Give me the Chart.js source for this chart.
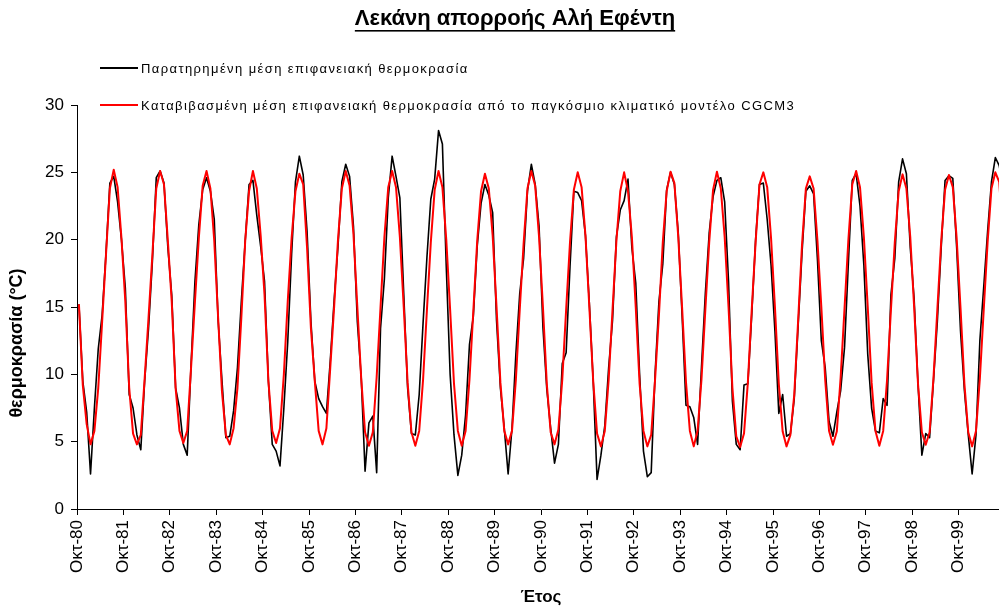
<!DOCTYPE html>
<html lang="el">
<head>
<meta charset="utf-8">
<title>Λεκάνη απορροής Αλή Εφέντη</title>
<script src="https://cdn.jsdelivr.net/npm/chart.js@4.4.1/dist/chart.umd.min.js"></script>
<style>
    html, body { margin: 0; padding: 0; background: #ffffff; overflow: hidden; }
    #wrap { width: 1010px; height: 609px; }
</style>
</head>
<body>
<div id="wrap"><canvas id="temp-chart" width="1010" height="609"></canvas></div>
<script>
// hydrological years (October to September), 1980-81 ... 1999-00
const startYears = [1980, 1981, 1982, 1983, 1984, 1985, 1986, 1987, 1988, 1989,
                    1990, 1991, 1992, 1993, 1994, 1995, 1996, 1997, 1998, 1999];
const monthNames = ['Οκτ', 'Νοε', 'Δεκ', 'Ιαν', 'Φεβ', 'Μαρ', 'Απρ', 'Μαϊ', 'Ιουν', 'Ιουλ', 'Αυγ', 'Σεπ'];

// observed monthly mean surface temperature (°C), one row per hydrological year
const observed = [
    15.2, 9.5, 7.2, 2.6, 7.5, 11.9, 14.4, 19.0, 24.2, 24.7, 22.8, 20.0,
    16.4, 8.5, 7.5, 5.5, 4.4, 9.5, 13.4, 18.4, 24.6, 25.1, 24.2, 19.4,
    15.9, 9.0, 7.5, 4.8, 4.0, 10.7, 16.9, 21.1, 23.7, 24.6, 23.6, 21.5,
    14.0, 9.5, 5.3, 5.4, 7.3, 10.5, 15.4, 19.9, 24.1, 24.4, 21.8, 19.5,
    16.9, 9.5, 4.8, 4.3, 3.2, 7.5, 12.4, 18.9, 24.3, 26.2, 24.8, 20.6,
    13.9, 9.5, 8.2, 7.6, 7.1, 11.0, 15.5, 19.5, 24.3, 25.6, 24.7, 21.0,
    13.9, 9.8, 2.8, 6.4, 6.9, 2.7, 13.4, 17.1, 23.1, 26.2, 24.7, 23.1,
    16.0, 9.0, 5.6, 5.5, 8.5, 13.8, 18.7, 23.0, 24.5, 28.1, 27.1, 18.0,
    10.0, 5.5, 2.5, 4.0, 7.0, 12.2, 14.3, 19.5, 22.7, 24.1, 23.3, 22.0,
    14.0, 9.0, 6.0, 2.6, 6.0, 11.5, 16.0, 18.6, 23.6, 25.6, 24.1, 21.0,
    13.5, 8.9, 6.0, 3.4, 4.8, 10.8, 11.6, 18.0, 23.6, 23.5, 22.9, 20.3,
    15.3, 9.5, 2.2, 4.0, 6.2, 10.5, 14.0, 20.2, 22.2, 22.9, 24.5, 19.4,
    16.8, 10.0, 4.3, 2.4, 2.7, 10.0, 15.4, 18.2, 23.7, 25.0, 24.1, 20.5,
    14.3, 7.7, 7.6, 6.8, 4.8, 10.5, 16.0, 20.5, 23.2, 24.4, 24.6, 22.8,
    16.9, 8.0, 4.8, 4.4, 9.2, 9.3, 14.4, 20.0, 24.1, 24.2, 21.5, 18.1,
    13.2, 7.1, 8.5, 5.4, 5.6, 8.2, 13.6, 19.0, 23.6, 24.0, 23.4, 18.5,
    12.5, 10.5, 6.5, 5.4, 7.2, 8.8, 12.0, 18.3, 24.4, 24.9, 22.5, 18.1,
    11.5, 7.5, 5.8, 5.65, 8.2, 7.7, 15.9, 18.6, 24.3, 26.0, 24.9, 19.4,
    15.6, 9.3, 4.0, 5.6, 5.3, 9.5, 13.9, 19.4, 24.4, 24.75, 24.55, 19.4,
    13.2, 8.8, 5.5, 2.6, 5.5, 12.5, 16.5, 20.6, 24.3, 26.1, 25.5, 24.0
];

// downscaled CGCM3 monthly mean surface temperature (°C)
const downscaled = [
    15.2, 9.2, 6.3, 4.8, 5.8, 9.0, 13.9, 18.9, 23.8, 25.2, 23.9, 20.1,
    15.4, 9.0, 5.6, 4.8, 5.5, 9.7, 14.2, 18.9, 23.8, 25.1, 24.1, 19.9,
    15.4, 9.0, 5.8, 4.9, 5.8, 10.5, 15.4, 20.1, 24.0, 25.1, 23.8, 19.9,
    14.2, 8.7, 5.5, 4.8, 6.0, 9.0, 14.2, 19.9, 23.6, 25.1, 23.8, 20.3,
    15.9, 9.5, 5.8, 4.9, 6.0, 10.0, 15.4, 20.1, 23.6, 24.9, 24.1, 19.4,
    13.4, 9.5, 5.8, 4.8, 6.0, 10.5, 15.0, 20.0, 23.8, 25.1, 24.0, 20.4,
    15.0, 9.7, 5.7, 4.7, 5.7, 9.8, 15.0, 20.2, 23.9, 25.1, 23.9, 20.2,
    15.0, 9.4, 5.7, 4.7, 5.8, 9.6, 14.8, 19.8, 23.7, 25.1, 23.9, 20.0,
    14.8, 9.3, 5.8, 4.7, 5.8, 9.6, 14.7, 19.9, 23.6, 24.9, 23.8, 20.3,
    15.0, 9.4, 5.8, 4.8, 5.8, 9.6, 14.8, 19.7, 23.8, 25.1, 24.0, 20.2,
    15.0, 9.3, 5.7, 4.8, 5.9, 9.6, 14.8, 19.8, 23.7, 25.0, 23.9, 20.3,
    15.0, 9.5, 5.6, 4.65, 5.8, 9.6, 14.8, 19.9, 23.6, 25.0, 23.6, 20.2,
    15.0, 9.3, 5.8, 4.65, 5.5, 9.6, 14.4, 19.8, 23.6, 25.05, 24.2, 20.2,
    14.9, 9.4, 5.8, 4.65, 5.8, 9.6, 14.8, 19.8, 23.7, 25.05, 23.8, 20.2,
    15.0, 9.0, 5.4, 4.6, 5.6, 9.4, 14.8, 19.8, 24.1, 25.0, 23.9, 20.1,
    15.0, 9.3, 5.75, 4.65, 5.5, 8.5, 14.0, 19.6, 23.8, 24.7, 23.8, 19.9,
    15.0, 9.6, 5.8, 4.77, 5.75, 9.8, 14.9, 20.0, 24.1, 25.1, 23.9, 20.2,
    15.0, 9.4, 5.8, 4.7, 5.8, 9.6, 14.8, 19.8, 23.6, 24.85, 23.8, 20.2,
    15.0, 9.3, 5.7, 4.77, 5.7, 9.7, 14.8, 19.9, 23.7, 24.8, 23.9, 20.1,
    14.9, 9.3, 5.7, 4.65, 5.8, 9.7, 14.8, 19.8, 23.8, 25.0, 24.3, 20.2
];

const chartTitle = 'Λεκάνη απορροής Αλή Εφέντη';
const observedLabel = 'Παρατηρημένη μέση επιφανειακή θερμοκρασία';
const downscaledLabel = 'Καταβιβασμένη μέση επιφανειακή θερμοκρασία από το παγκόσμιο κλιματικό μοντέλο CGCM3';
const yAxisTitle = 'θερμοκρασία (°C)';
const xAxisTitle = 'Έτος';
const yTicks = [0, 5, 10, 15, 20, 25, 30];

// month labels, e.g. "Οκτ-80", "Ιαν-81"
const categories = [];
startYears.forEach(function (y) {
    monthNames.forEach(function (m, k) {
        const yr = k < 3 ? y : y + 1;
        categories.push(m + '-' + String(yr).slice(-2));
    });
});

// each month sits in the middle of its slot on a 0..N month axis
function toPoints(values) {
    return values.map(function (v, i) { return { x: i + 0.5, y: v }; });
}

const fontFamily = '"Liberation Sans", Arial, Helvetica, sans-serif';

// title, line legend and the y axis title are drawn by hand
const chartDecor = {
    id: 'chartDecor',
    afterDraw: function (chart) {
        const ctx = chart.ctx;
        const area = chart.chartArea;
        ctx.save();
        ctx.fillStyle = '#000000';

        // underlined title
        ctx.font = 'bold 22px ' + fontFamily;
        ctx.textAlign = 'center';
        ctx.textBaseline = 'middle';
        const tx = 515;
        ctx.fillText(chartTitle, tx, 19);
        const tw = ctx.measureText(chartTitle).width;
        ctx.fillRect(tx - tw / 2, 30, tw, 1.6);

        // legend, one row per dataset
        ctx.font = '13px ' + fontFamily;
        ctx.textAlign = 'left';
        if ('letterSpacing' in ctx) ctx.letterSpacing = '1.4px';
        chart.data.datasets.forEach(function (ds, k) {
            const y = area.top - 37 + k * 37;
            ctx.strokeStyle = ds.borderColor;
            ctx.lineWidth = 2;
            ctx.beginPath();
            ctx.moveTo(100, y);
            ctx.lineTo(138, y);
            ctx.stroke();
            ctx.fillText(ds.label, 141, y + 1);
        });
        if ('letterSpacing' in ctx) ctx.letterSpacing = '0px';

        // y axis title
        ctx.font = 'bold 18px ' + fontFamily;
        ctx.textAlign = 'center';
        ctx.translate(17, 343);
        ctx.rotate(-Math.PI / 2);
        ctx.fillText(yAxisTitle, 0, 0);
        ctx.restore();
    }
};

new Chart(document.getElementById('temp-chart'), {
    type: 'line',
    data: {
        datasets: [
            {
                label: observedLabel,
                data: toPoints(observed),
                borderColor: '#000000',
                borderWidth: 1.6,
                order: 1
            },
            {
                label: downscaledLabel,
                data: toPoints(downscaled),
                borderColor: '#ff0000',
                borderWidth: 2,
                order: 0
            }
        ]
    },
    options: {
        responsive: false,
        animation: false,
        devicePixelRatio: 1,
        layout: { padding: { top: 105, right: 5, left: 0, bottom: 0 } },
        elements: {
            point: { radius: 0 },
            line: { tension: 0, borderJoinStyle: 'round', fill: false }
        },
        plugins: {
            legend: { display: false },
            title: { display: false },
            tooltip: { enabled: false }
        },
        scales: {
            x: {
                type: 'linear',
                min: 0,
                max: categories.length,
                grid: {
                    drawOnChartArea: false,
                    tickLength: 6,
                    color: '#000000'
                },
                border: { color: '#000000', width: 1 },
                ticks: {
                    stepSize: 12,
                    autoSkip: false,
                    minRotation: 90,
                    maxRotation: 90,
                    padding: 5,
                    color: '#000000',
                    font: { family: fontFamily, size: 17 },
                    callback: function (value) {
                        return categories[value] !== undefined ? categories[value] : null;
                    }
                },
                title: {
                    display: true,
                    text: xAxisTitle,
                    color: '#000000',
                    font: { family: fontFamily, size: 17, weight: 'bold' },
                    padding: { top: 2, bottom: 1 }
                },
                afterFit: function (scale) {
                    scale.height = 100;
                    scale.paddingLeft = 0;
                    scale.paddingRight = 0;
                }
            },
            y: {
                min: yTicks[0],
                max: yTicks[yTicks.length - 1],
                grid: { drawOnChartArea: false, tickLength: 6, color: '#000000' },
                border: { color: '#000000', width: 1 },
                ticks: {
                    stepSize: 5,
                    padding: 7,
                    color: '#000000',
                    font: { family: fontFamily, size: 17 }
                },
                afterFit: function (scale) {
                    scale.width = 77;
                }
            }
        }
    },
    plugins: [chartDecor]
});
</script>
</body>
</html>
